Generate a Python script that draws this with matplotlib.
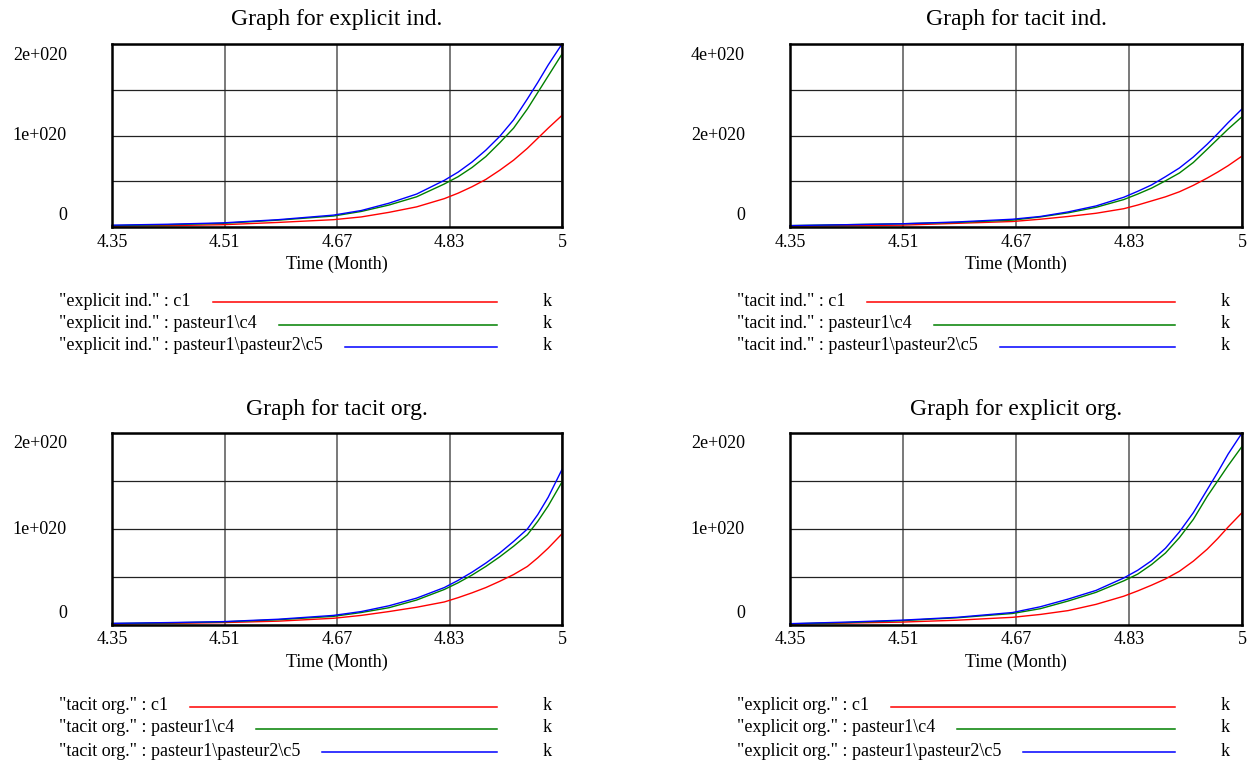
import matplotlib
matplotlib.use("Agg")
import matplotlib.pyplot as plt
from matplotlib.transforms import offset_copy
from matplotlib.lines import Line2D

plt.rcParams['font.family'] = ['Liberation Serif', 'DejaVu Serif']

W, H, DPI = 1251, 761, 100

# ---------------- data (values in units of 1e+020) ----------------
time = [4.35, 4.43, 4.51, 4.59, 4.67, 4.71, 4.75, 4.79,
        4.83, 4.85, 4.87, 4.89, 4.91, 4.93, 4.95, 4.965, 4.98, 5.0]
x_ticks = [4.35, 4.5125, 4.675, 4.8375, 5.0]
x_tick_labels = ["4.35", "4.51", "4.67", "4.83", "5"]
run_names = ["c1", "pasteur1\\c4", "pasteur1\\pasteur2\\c5"]
run_colors = ["#ff0000", "#008000", "#0000ff"]

explicit_ind_c1 = [0.01, 0.015, 0.025, 0.05, 0.08, 0.11, 0.16, 0.22,
                   0.31, 0.37, 0.44, 0.52, 0.62, 0.73, 0.86, 0.97, 1.08, 1.22]
explicit_ind_c4 = [0.015, 0.025, 0.04, 0.075, 0.12, 0.17, 0.24, 0.33,
                   0.47, 0.55, 0.65, 0.77, 0.92, 1.08, 1.29, 1.47, 1.65, 1.89]
explicit_ind_c5 = [0.02, 0.03, 0.045, 0.08, 0.13, 0.18, 0.26, 0.36,
                   0.51, 0.60, 0.71, 0.84, 0.99, 1.17, 1.40, 1.58, 1.77, 2.0]

tacit_ind_c1 = [0.02, 0.03, 0.04, 0.08, 0.12, 0.17, 0.23, 0.30,
                0.40, 0.48, 0.57, 0.66, 0.77, 0.91, 1.07, 1.20, 1.34, 1.55]
tacit_ind_c4 = [0.03, 0.05, 0.07, 0.10, 0.15, 0.22, 0.31, 0.43,
                0.60, 0.72, 0.85, 1.01, 1.18, 1.41, 1.70, 1.92, 2.14, 2.41]
tacit_ind_c5 = [0.03, 0.05, 0.07, 0.11, 0.17, 0.23, 0.33, 0.46,
                0.65, 0.78, 0.92, 1.10, 1.29, 1.53, 1.81, 2.04, 2.28, 2.58]

tacit_org_c1 = [0.01, 0.017, 0.025, 0.04, 0.07, 0.10, 0.14, 0.185,
                0.24, 0.285, 0.335, 0.39, 0.455, 0.525, 0.61, 0.70, 0.80, 0.95]
tacit_org_c4 = [0.015, 0.022, 0.032, 0.055, 0.09, 0.13, 0.18, 0.26,
                0.37, 0.44, 0.52, 0.61, 0.71, 0.82, 0.94, 1.08, 1.24, 1.49]
tacit_org_c5 = [0.017, 0.025, 0.035, 0.06, 0.10, 0.14, 0.20, 0.28,
                0.39, 0.465, 0.55, 0.645, 0.75, 0.87, 1.00, 1.15, 1.33, 1.62]

explicit_org_c1 = [0.01, 0.02, 0.03, 0.05, 0.08, 0.11, 0.15, 0.215,
                   0.30, 0.355, 0.415, 0.48, 0.56, 0.665, 0.79, 0.90, 1.02, 1.17]
explicit_org_c4 = [0.012, 0.025, 0.045, 0.075, 0.12, 0.17, 0.25, 0.34,
                   0.46, 0.53, 0.63, 0.75, 0.91, 1.10, 1.34, 1.50, 1.66, 1.86]
explicit_org_c5 = [0.014, 0.03, 0.05, 0.08, 0.13, 0.19, 0.27, 0.36,
                   0.49, 0.57, 0.67, 0.80, 0.97, 1.17, 1.41, 1.59, 1.78, 2.0]

var_names = ["explicit ind.", "tacit ind.", "tacit org.", "explicit org."]
y_max = [2.0, 4.0, 2.0, 2.0]
y_labels = [["0", "1e+020", "2e+020"], ["0", "2e+020", "4e+020"],
            ["0", "1e+020", "2e+020"], ["0", "1e+020", "2e+020"]]
series = [
    [explicit_ind_c1, explicit_ind_c4, explicit_ind_c5],
    [tacit_ind_c1, tacit_ind_c4, tacit_ind_c5],
    [tacit_org_c1, tacit_org_c4, tacit_org_c5],
    [explicit_org_c1, explicit_org_c4, explicit_org_c5],
]
unit = "k"
x_label = "Time (Month)"

# ---------------- layout (pixels) ----------------
boxes = [(112, 44, 562, 227), (790, 44, 1242, 227),
         (112, 433, 562, 625), (790, 433, 1242, 625)]
legend_rows = [(301, 324, 346), (301, 324, 346), (706, 728, 751), (706, 728, 751)]

fig = plt.figure(figsize=(W / DPI, H / DPI), dpi=DPI)
fig.patch.set_facecolor("white")

FS = 13
renderer = fig.canvas.get_renderer()


def fx(x):
    return x / W


def fy(y):
    return 1 - y / H


for i in range(4):
    l, t, r, b = boxes[i]
    ax = fig.add_axes([fx(l), fy(b), (r - l) / W, (b - t) / H])
    ax.set_xlim(4.35, 5.0)
    ax.set_ylim(0, y_max[i])
    ax.set_xticks(x_ticks)
    ax.set_yticks([y_max[i] * k / 4 for k in range(5)])
    ax.tick_params(length=0, labelbottom=False, labelleft=False)
    ax.grid(True, axis="x", color="#555555", lw=1.1)
    ax.grid(True, axis="y", color="#222222", lw=0.9)
    ax.set_axisbelow(True)
    for sp in ax.spines.values():
        sp.set_linewidth(1.8)
        sp.set_color("black")
        sp.set_zorder(4)
    for vals, col in zip(series[i], run_colors):
        ax.plot(time, vals, color=col, lw=1.0, clip_on=False, zorder=3)

    # x tick labels
    xt = offset_copy(ax.get_xaxis_transform(), fig=fig, y=-15, units="dots")
    for v, lab in zip(x_ticks, x_tick_labels):
        ax.text(v, 0, lab, transform=xt, ha="center", va="center", fontsize=FS)
    # x label
    ax.text(0.5, 0, x_label, transform=offset_copy(ax.transAxes, fig=fig, y=-37, units="dots"),
            ha="center", va="center", fontsize=FS)
    # title
    ax.text(0.5, 1, "Graph for " + var_names[i],
            transform=offset_copy(ax.transAxes, fig=fig, y=24, units="dots"),
            ha="center", va="center", fontsize=17)
    # y labels (Vensim style, inset)
    yvals = [0, y_max[i] / 2, y_max[i]]
    yoffs = [12, 0, -11]
    for v, lab, dy in zip(yvals, y_labels[i], yoffs):
        tr = offset_copy(ax.get_yaxis_transform(), fig=fig, x=-45, y=dy, units="dots")
        ax.text(0, v, lab, transform=tr, ha="right", va="center", fontsize=FS)

    # legend
    tx = l - 53
    line_end = l + 385
    k_x = l + 435
    for j in range(3):
        yrow = legend_rows[i][j]
        txt = fig.text(fx(tx), fy(yrow), '"%s" : %s' % (var_names[i], run_names[j]),
                       ha="left", va="center", fontsize=FS)
        bb = txt.get_window_extent(renderer)
        x_start = bb.x1 + 22
        fig.add_artist(Line2D([x_start / W, fx(line_end)], [fy(yrow + 1), fy(yrow + 1)],
                              transform=fig.transFigure, color=run_colors[j], lw=1.1))
        fig.text(fx(k_x), fy(yrow), unit, ha="center", va="center", fontsize=FS)

fig.savefig("out.png", dpi=DPI, facecolor="white")
